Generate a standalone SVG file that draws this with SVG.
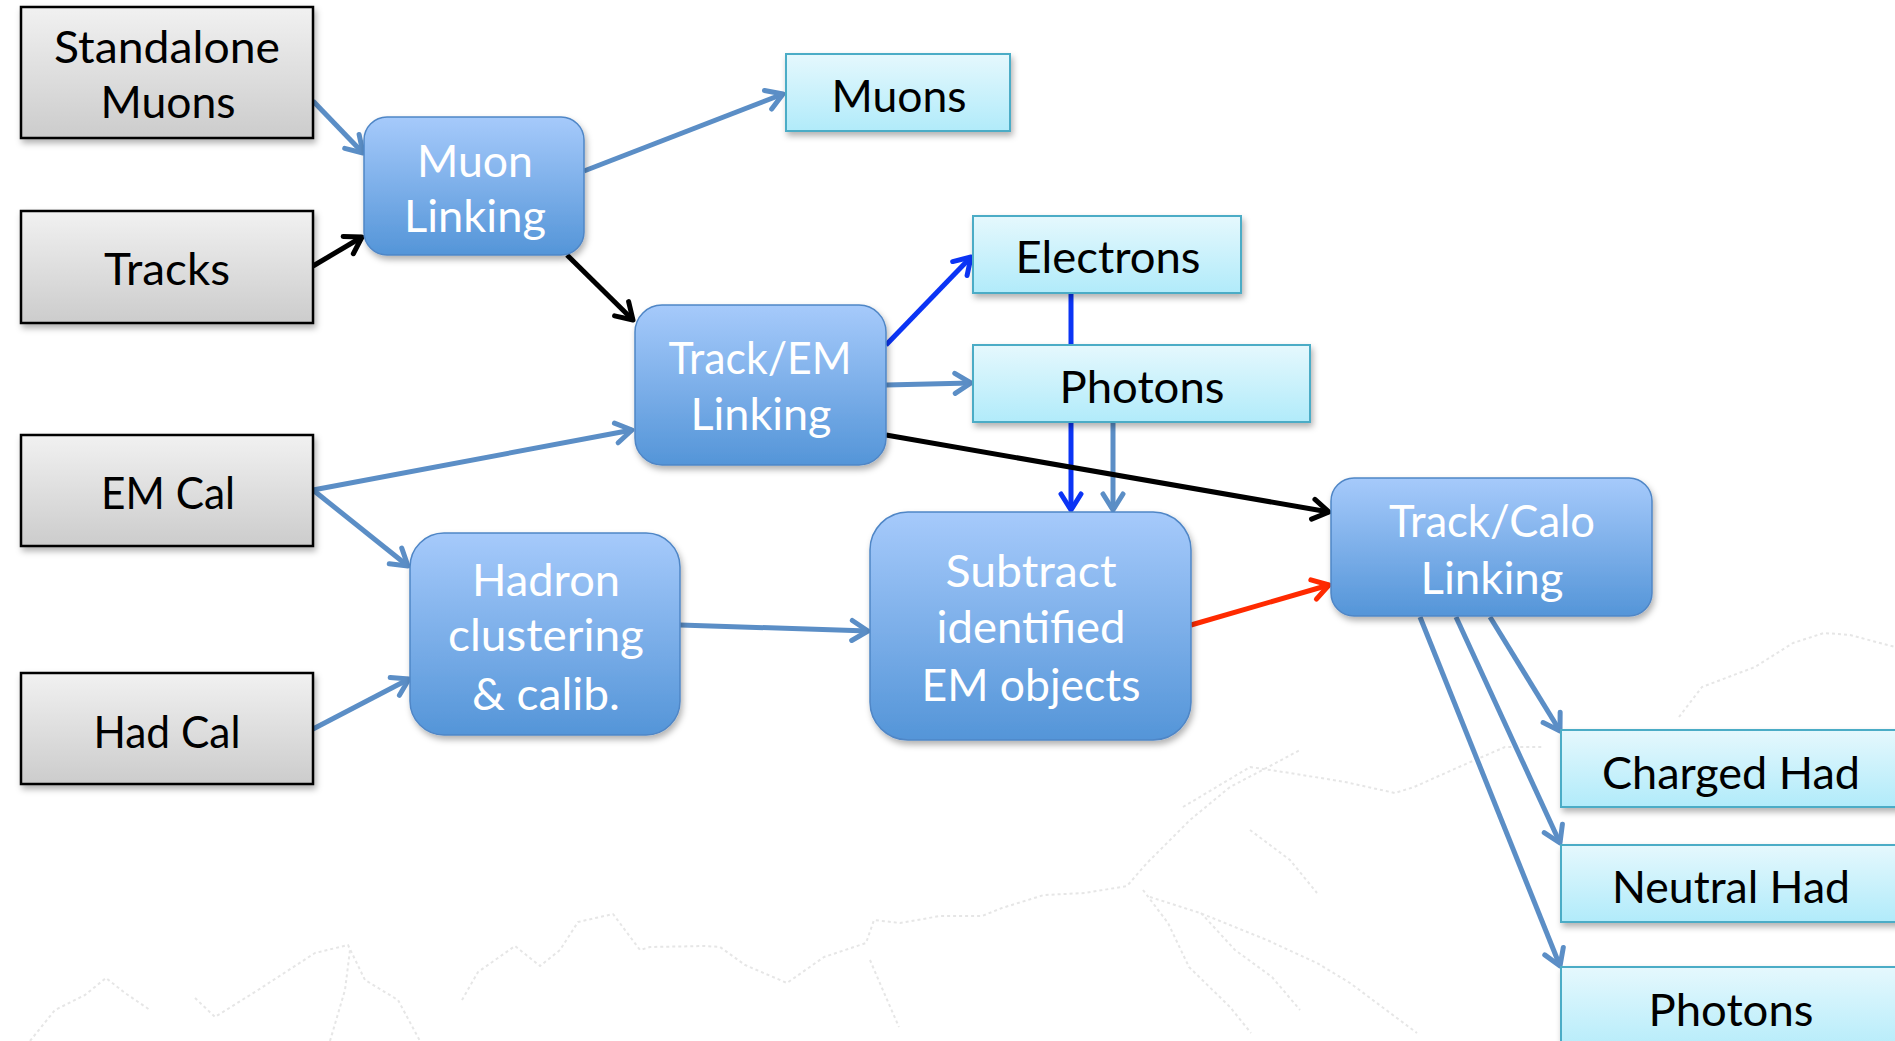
<svg xmlns="http://www.w3.org/2000/svg" width="1895" height="1041" viewBox="0 0 1895 1041">
  <style>
    .lbl { font-family: Lato, "Open Sans", "Liberation Sans", sans-serif; font-size: 44px; text-anchor: middle; }
    .dark { fill: #000; }
    .light { fill: #fff; }
    .raw rect { fill: url(#gGray); stroke: #000; stroke-width: 2.5; filter: url(#shadow); }
    .step rect { fill: url(#gBlue); stroke: #4f86c6; stroke-width: 1.5; filter: url(#shadow); }
    .out rect { fill: url(#gCyan); stroke: #4bacc6; stroke-width: 2; filter: url(#shadow); }
    .ln { fill: none; stroke-width: 5; stroke-linecap: butt; }
    .sb { stroke: #5b8ec6; }
    .bk { stroke: #000; }
    .bl { stroke: #0b34f5; }
    .rd { stroke: #ff2a00; }
    .sketch path { fill: none; stroke: #e6e6e6; stroke-width: 2; stroke-dasharray: 3 3; stroke-linejoin: round; }
  </style>
  <defs>
    <linearGradient id="gGray" x1="0" y1="0" x2="0" y2="1">
      <stop offset="0" stop-color="#f1f1f1"/>
      <stop offset="1" stop-color="#cccccc"/>
    </linearGradient>
    <linearGradient id="gBlue" x1="0" y1="0" x2="0" y2="1">
      <stop offset="0" stop-color="#a6cafb"/>
      <stop offset="1" stop-color="#5495d8"/>
    </linearGradient>
    <linearGradient id="gCyan" x1="0" y1="0" x2="0" y2="1">
      <stop offset="0" stop-color="#e5f8fd"/>
      <stop offset="1" stop-color="#b1ebfa"/>
    </linearGradient>
    <filter id="shadow" x="-10%" y="-10%" width="125%" height="130%">
      <feDropShadow dx="2" dy="4" stdDeviation="3" flood-color="#000" flood-opacity="0.3"/>
    </filter>
    <marker id="mSb" markerUnits="userSpaceOnUse" viewBox="-22 -13 26 26" markerWidth="26" markerHeight="26" refX="0" refY="0" orient="auto">
      <path d="M-16,-10 L0,0 L-16,10" fill="none" stroke="#5b8ec6" stroke-width="5" stroke-linecap="round" stroke-linejoin="round"/>
    </marker>
    <marker id="mBk" markerUnits="userSpaceOnUse" viewBox="-22 -13 26 26" markerWidth="26" markerHeight="26" refX="0" refY="0" orient="auto">
      <path d="M-16,-10 L0,0 L-16,10" fill="none" stroke="#000" stroke-width="5" stroke-linecap="round" stroke-linejoin="round"/>
    </marker>
    <marker id="mBl" markerUnits="userSpaceOnUse" viewBox="-22 -13 26 26" markerWidth="26" markerHeight="26" refX="0" refY="0" orient="auto">
      <path d="M-16,-10 L0,0 L-16,10" fill="none" stroke="#0b34f5" stroke-width="5" stroke-linecap="round" stroke-linejoin="round"/>
    </marker>
    <marker id="mRd" markerUnits="userSpaceOnUse" viewBox="-22 -13 26 26" markerWidth="26" markerHeight="26" refX="0" refY="0" orient="auto">
      <path d="M-16,-10 L0,0 L-16,10" fill="none" stroke="#ff2a00" stroke-width="5" stroke-linecap="round" stroke-linejoin="round"/>
    </marker>
  </defs>

  <rect x="0" y="0" width="1895" height="1041" fill="#fff"/>

  <!-- faint mountain line drawing in the background -->
  <g class="sketch">
    <path d="M30,1041 L55,1010 L85,995 L106,978 L125,993 L150,1010"/>
    <path d="M195,998 L215,1017 L258,990 L315,953 L348,945 L365,980 L398,1000 L420,1041"/>
    <path d="M330,1041 L345,990 L350,950"/>
    <path d="M462,1000 L478,972 L515,946 L540,966 L560,950 L578,922 L613,914 L640,950 L650,947 L705,946 L720,947 L745,965 L787,983 L824,957 L866,943 L874,920 L900,923 L940,916 L982,916 L1002,908 L1044,895 L1085,893 L1127,886 L1147,863 L1190,820 L1230,787 L1272,765 L1300,750"/>
    <path d="M870,960 L885,995 L899,1027"/>
    <path d="M1143,890 L1168,923 L1189,967 L1230,1007 L1251,1033"/>
    <path d="M1201,913 L1235,950 L1272,977 L1300,1010"/>
    <path d="M1150,897 L1200,913 L1267,940 L1317,963 L1350,983 L1417,1033"/>
    <path d="M1183,807 L1250,767 L1290,773 L1345,782 L1395,793 L1414,787 L1459,767 L1505,747 L1543,747"/>
    <path d="M1250,830 L1290,860 L1317,893"/>
    <path d="M1679,717 L1702,687 L1755,667 L1793,643 L1824,633 L1850,635 L1895,647"/>
  </g>

  <!-- connectors -->
  <g id="connectors">
    <line class="ln sb" x1="313" y1="101" x2="363" y2="153" marker-end="url(#mSb)"/>
    <line class="ln bk" x1="313" y1="266" x2="362" y2="237" marker-end="url(#mBk)"/>
    <line class="ln sb" x1="584" y1="171" x2="783" y2="94" marker-end="url(#mSb)"/>
    <line class="ln bk" x1="567" y1="255" x2="633" y2="320" marker-end="url(#mBk)"/>
    <line class="ln sb" x1="313" y1="490" x2="632" y2="430" marker-end="url(#mSb)"/>
    <line class="ln sb" x1="313" y1="490" x2="408" y2="566" marker-end="url(#mSb)"/>
    <line class="ln sb" x1="313" y1="729" x2="409" y2="679" marker-end="url(#mSb)"/>
    <line class="ln bl" x1="886" y1="345" x2="971" y2="257" marker-end="url(#mBl)"/>
    <line class="ln sb" x1="886" y1="385" x2="971" y2="383" marker-end="url(#mSb)"/>
    <line class="ln bl" x1="1071" y1="293" x2="1071" y2="345"/>
    <line class="ln bl" x1="1071" y1="422" x2="1071" y2="510" marker-end="url(#mBl)"/>
    <line class="ln sb" x1="1113" y1="422" x2="1113" y2="510" marker-end="url(#mSb)"/>
    <line class="ln bk" x1="886" y1="435" x2="1329" y2="512" marker-end="url(#mBk)"/>
    <line class="ln sb" x1="680" y1="625" x2="868" y2="631" marker-end="url(#mSb)"/>
    <line class="ln rd" x1="1191" y1="625" x2="1329" y2="585" marker-end="url(#mRd)"/>
    <line class="ln sb" x1="1490" y1="617" x2="1560" y2="731" marker-end="url(#mSb)"/>
    <line class="ln sb" x1="1456" y1="617" x2="1560" y2="843" marker-end="url(#mSb)"/>
    <line class="ln sb" x1="1420" y1="617" x2="1560" y2="966" marker-end="url(#mSb)"/>
  </g>

  <!-- detector inputs -->
  <g id="standalone-muons" class="raw">
    <rect x="21" y="7" width="292" height="131"/>
    <text class="lbl dark" x="167" y="63" textLength="226" lengthAdjust="spacingAndGlyphs">Standalone</text>
    <text class="lbl dark" x="168" y="118" textLength="135" lengthAdjust="spacingAndGlyphs">Muons</text>
  </g>
  <g id="tracks" class="raw">
    <rect x="21" y="211" width="292" height="112"/>
    <text class="lbl dark" x="167" y="285" textLength="126" lengthAdjust="spacingAndGlyphs">Tracks</text>
  </g>
  <g id="em-cal" class="raw">
    <rect x="21" y="435" width="292" height="111"/>
    <text class="lbl dark" x="168" y="509" textLength="134" lengthAdjust="spacingAndGlyphs">EM Cal</text>
  </g>
  <g id="had-cal" class="raw">
    <rect x="21" y="673" width="292" height="111"/>
    <text class="lbl dark" x="167" y="748" textLength="147" lengthAdjust="spacingAndGlyphs">Had Cal</text>
  </g>

  <!-- processing steps -->
  <g id="muon-linking" class="step">
    <rect x="364" y="117" width="220" height="138" rx="23"/>
    <text class="lbl light" x="475" y="177" textLength="116" lengthAdjust="spacingAndGlyphs">Muon</text>
    <text class="lbl light" x="475" y="232" textLength="142" lengthAdjust="spacingAndGlyphs">Linking</text>
  </g>
  <g id="track-em-linking" class="step">
    <rect x="635" y="305" width="251" height="160" rx="27"/>
    <text class="lbl light" x="760" y="374" textLength="183" lengthAdjust="spacingAndGlyphs">Track/EM</text>
    <text class="lbl light" x="761" y="430" textLength="141" lengthAdjust="spacingAndGlyphs">Linking</text>
  </g>
  <g id="hadron-clustering" class="step">
    <rect x="410" y="533" width="270" height="202" rx="34"/>
    <text class="lbl light" x="546" y="596" textLength="148" lengthAdjust="spacingAndGlyphs">Hadron</text>
    <text class="lbl light" x="546" y="651" textLength="196" lengthAdjust="spacingAndGlyphs">clustering</text>
    <text class="lbl light" x="546" y="710" textLength="148" lengthAdjust="spacingAndGlyphs">&amp; calib.</text>
  </g>
  <g id="subtract-em" class="step">
    <rect x="870" y="512" width="321" height="228" rx="38"/>
    <text class="lbl light" x="1031" y="587" textLength="171" lengthAdjust="spacingAndGlyphs">Subtract</text>
    <text class="lbl light" x="1031" y="643" textLength="189" lengthAdjust="spacingAndGlyphs">identified</text>
    <text class="lbl light" x="1031" y="701" textLength="219" lengthAdjust="spacingAndGlyphs">EM objects</text>
  </g>
  <g id="track-calo-linking" class="step">
    <rect x="1331" y="478" width="321" height="138" rx="23"/>
    <text class="lbl light" x="1492" y="537" textLength="206" lengthAdjust="spacingAndGlyphs">Track/Calo</text>
    <text class="lbl light" x="1492" y="594" textLength="143" lengthAdjust="spacingAndGlyphs">Linking</text>
  </g>

  <!-- reconstructed objects -->
  <g id="muons" class="out">
    <rect x="786" y="54" width="224" height="77"/>
    <text class="lbl dark" x="899" y="112" textLength="135" lengthAdjust="spacingAndGlyphs">Muons</text>
  </g>
  <g id="electrons" class="out">
    <rect x="973" y="216" width="268" height="77"/>
    <text class="lbl dark" x="1108" y="273" textLength="185" lengthAdjust="spacingAndGlyphs">Electrons</text>
  </g>
  <g id="photons-em" class="out">
    <rect x="973" y="345" width="337" height="77"/>
    <text class="lbl dark" x="1142" y="403" textLength="165" lengthAdjust="spacingAndGlyphs">Photons</text>
  </g>
  <g id="charged-had" class="out">
    <rect x="1561" y="730" width="345" height="77"/>
    <text class="lbl dark" x="1731" y="789" textLength="258" lengthAdjust="spacingAndGlyphs">Charged Had</text>
  </g>
  <g id="neutral-had" class="out">
    <rect x="1561" y="845" width="345" height="77"/>
    <text class="lbl dark" x="1731" y="903" textLength="238" lengthAdjust="spacingAndGlyphs">Neutral Had</text>
  </g>
  <g id="photons-had" class="out">
    <rect x="1561" y="967" width="345" height="90"/>
    <text class="lbl dark" x="1731" y="1026" textLength="165" lengthAdjust="spacingAndGlyphs">Photons</text>
  </g>
</svg>
